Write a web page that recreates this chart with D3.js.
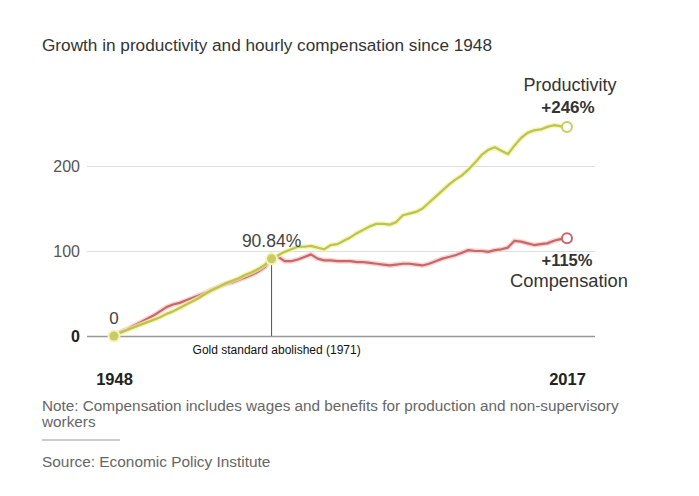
<!DOCTYPE html>
<html>
<head>
<meta charset="utf-8">
<script src="https://cdn.jsdelivr.net/npm/d3@7/dist/d3.min.js"></script>
<style>
  html, body { margin: 0; padding: 0; background: #fff; }
  svg { display: block; font-family: "Liberation Sans", Arial, sans-serif; }
</style>
</head>
<body>
<svg id="chart" width="699" height="496"></svg>
<script>
// ---- Data (cumulative % change since 1948) ----
const years = d3.range(1948, 2018);
const productivity = [
  0, 4, 7, 10, 13, 16, 19, 22, 26, 29, 33, 37, 41, 45, 50, 54, 58, 62, 65, 68, 72, 75, 79, 84, 90.84,
  95, 99, 102, 105, 105, 106, 104, 102, 107, 108, 112, 116, 121, 125, 129, 132, 132, 131, 134, 142,
  144, 146, 150, 157, 164, 171, 178, 184, 189, 196, 204, 213, 219, 222, 218, 214, 224, 233, 239, 242,
  243, 246, 248, 247, 246
];
const compensation = [
  0, 5, 8, 12, 16, 20, 24, 29, 34, 37, 39, 42, 45, 48, 51, 55, 58, 61, 63, 66, 69, 72, 76, 81, 90.84,
  93, 88, 88, 90, 93, 96, 91, 89, 89, 88, 88, 88, 87, 87, 86, 85, 84, 83, 84, 85,
  85, 84, 83, 85, 88, 91, 93, 95, 98, 101, 100, 100, 99, 101, 102, 104, 112, 111, 109, 107,
  108, 109, 112, 114, 115
];
const yTicks = [0, 100, 200];
const xTicks = [1948, 2017];
const annotationYear = 1972;
const annotationValue = 90.84;
const annotationText = "Gold standard abolished (1971)";
const title = "Growth in productivity and hourly compensation since 1948";
const noteLines = ["Note: Compensation includes wages and benefits for production and non-supervisory", "workers"];
const source = "Source: Economic Policy Institute";

// ---- Layout ----
const svg = d3.select("#chart");
const x = d3.scaleLinear().domain([1948, 2017]).range([114, 567]);
const y = d3.scaleLinear().domain([0, 200]).range([336, 166]);
const gridLeft = 87, gridRight = 595;

svg.append("text").attr("x", 42).attr("y", 51)
  .attr("font-size", 17.2).attr("fill", "#333").text(title);

// y axis grid
const yAxis = svg.append("g").attr("transform", `translate(${gridLeft},0)`)
  .call(d3.axisLeft(y).tickValues(yTicks).tickSize(-(gridRight - gridLeft)).tickPadding(7).tickFormat(d3.format("d")));
yAxis.select(".domain").remove();
yAxis.selectAll(".tick line").attr("stroke", "#ddd").attr("stroke-width", 1);
yAxis.selectAll(".tick text").attr("font-size", 16).attr("fill", "#555")
  .attr("font-family", "Liberation Sans, Arial, sans-serif");
yAxis.selectAll(".tick").filter(d => d === 0).select("line").attr("stroke", "#999").attr("stroke-width", 1.5);
yAxis.selectAll(".tick").filter(d => d === 0).select("text").attr("font-weight", "bold").attr("fill", "#222");

// x axis labels
const xAxis = svg.append("g").attr("transform", `translate(0,365)`)
  .call(d3.axisBottom(x).tickValues(xTicks).tickSize(0).tickPadding(8).tickFormat(d3.format("d")));
xAxis.select(".domain").remove();
xAxis.selectAll(".tick text").attr("font-size", 16.5).attr("font-weight", "bold").attr("fill", "#222")
  .attr("font-family", "Liberation Sans, Arial, sans-serif");

// annotation line
svg.append("line").attr("x1", x(annotationYear)).attr("x2", x(annotationYear))
  .attr("y1", y(annotationValue)).attr("y2", y(0)).attr("stroke", "#555").attr("stroke-width", 1);
svg.append("text").attr("x", x(annotationYear) - 79).attr("y", 354)
  .attr("font-size", 12).attr("fill", "#111").text(annotationText);

// lines
const line = d3.line().x((d, i) => x(years[i])).y(d => y(d));
function drawSeries(values, halo, core) {
  svg.append("path").datum(values).attr("d", line).attr("fill", "none")
    .attr("stroke", halo).attr("stroke-width", 5).attr("stroke-linejoin", "round").attr("opacity", 0.7);
  svg.append("path").datum(values).attr("d", line).attr("fill", "none")
    .attr("stroke", core).attr("stroke-width", 2.2).attr("stroke-linejoin", "round");
}
drawSeries(compensation, "#f3c4c0", "#c8666a");
drawSeries(productivity, "#f2f29a", "#bcc350");

// dots
function dot(cx, cy) {
  svg.append("circle").attr("cx", cx).attr("cy", cy).attr("r", 6.5).attr("fill", "#f4f4b8");
  svg.append("circle").attr("cx", cx).attr("cy", cy).attr("r", 4.5).attr("fill", "#c9cc66");
}
dot(x(1948), y(0));
dot(x(annotationYear), y(annotationValue));

const last = years.length - 1;
svg.append("circle").attr("cx", x(years[last])).attr("cy", y(productivity[last])).attr("r", 5)
  .attr("fill", "#fff").attr("stroke", "#c9cc66").attr("stroke-width", 2);
svg.append("circle").attr("cx", x(years[last])).attr("cy", y(compensation[last])).attr("r", 5)
  .attr("fill", "#fff").attr("stroke", "#c8666a").attr("stroke-width", 2);

// labels
svg.append("text").attr("x", x(1948)).attr("y", 324).attr("text-anchor", "middle")
  .attr("font-size", 17).attr("fill", "#444").text("0");
svg.append("text").attr("x", x(annotationYear)).attr("y", 247).attr("text-anchor", "middle")
  .attr("font-size", 17.5).attr("fill", "#444").text(d3.format(".2f")(annotationValue) + "%");

svg.append("text").attr("x", 570).attr("y", 91).attr("text-anchor", "middle")
  .attr("font-size", 18).attr("fill", "#333").text("Productivity");
svg.append("text").attr("x", 568).attr("y", 113).attr("text-anchor", "middle")
  .attr("font-size", 17).attr("font-weight", "bold").attr("fill", "#333")
  .text("+" + Math.round(productivity[last]) + "%");
svg.append("text").attr("x", 567).attr("y", 266).attr("text-anchor", "middle")
  .attr("font-size", 16.5).attr("font-weight", "bold").attr("fill", "#333")
  .text("+" + Math.round(compensation[last]) + "%");
svg.append("text").attr("x", 569).attr("y", 287).attr("text-anchor", "middle")
  .attr("font-size", 18.3).attr("fill", "#333").text("Compensation");

// notes
noteLines.forEach((t, i) => {
  svg.append("text").attr("x", 42).attr("y", 411 + i * 16)
    .attr("font-size", 15.3).attr("fill", "#666").text(t);
});
svg.append("line").attr("x1", 42).attr("x2", 120).attr("y1", 440).attr("y2", 440)
  .attr("stroke", "#ccc").attr("stroke-width", 2);
svg.append("text").attr("x", 42).attr("y", 467).attr("font-size", 15.4).attr("fill", "#666").text(source);
</script>
</body>
</html>
